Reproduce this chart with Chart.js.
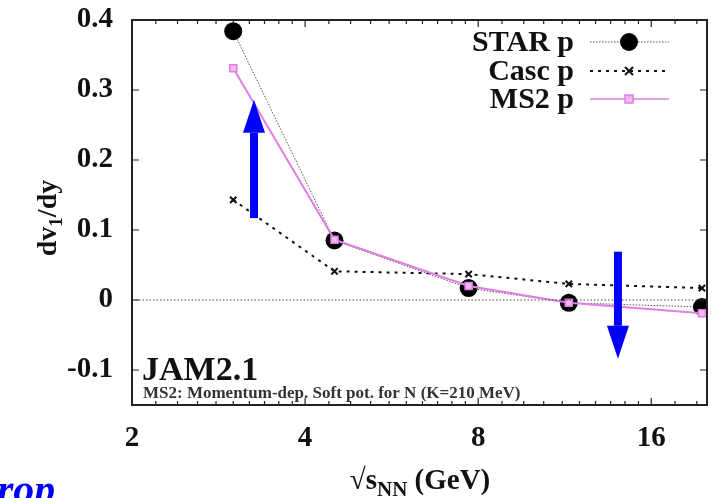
<!DOCTYPE html>
<html>
<head>
<meta charset="utf-8">
<script src="https://cdn.jsdelivr.net/npm/chart.js@4.4.1/dist/chart.umd.min.js"></script>
<style>
  html, body { margin: 0; padding: 0; background: #fff; }
  #wrap { width: 716px; height: 498px; position: relative; }
</style>
</head>
<body>
<div id="wrap"><canvas id="dv1Chart" width="716" height="498"></canvas></div>
<script>
// ======================
// Dados
// ======================
const energias = [3.0, 4.5, 7.7, 11.5, 19.6];     // sqrt(s_NN) em GeV
const starP = [0.384, 0.085, 0.017, -0.004, -0.010];
const cascP = [0.143, 0.041, 0.037, 0.023, 0.017];
const ms2P = [0.331, 0.086, 0.020, -0.004, -0.019];

const xTicks = [2, 4, 8, 16];
const yTicks = [-0.1, 0, 0.1, 0.2, 0.3, 0.4];
const yTickLabels = ["-0.1", "0", "0.1", "0.2", "0.3", "0.4"];

// setas azuis: [x, y inicio, y ponta]
const setaSobe = [3.26, 0.117, 0.286];
const setaDesce = [14.0, 0.069, -0.084];

const serif = "'Liberation Serif', 'DejaVu Serif', serif";
const violeta = "#e07fe4";

function pontos(valores) {
  return energias.map((e, i) => ({ x: e, y: valores[i] }));
}

// minor ticks do eixo log (passo linear entre potencias de 2)
function minorTicks() {
  const out = [];
  for (let base = 2; base < 20; base *= 2) {
    const passo = base / 10;
    for (let v = base + passo; v < base * 2 - 1e-9 && v < 20; v += passo) out.push(v);
  }
  return out;
}

const moldura = {
  id: "moldura",
  afterDatasetsDraw(chart) {
    const { ctx, chartArea: a, scales } = chart;
    const x = scales.x, y = scales.y;
    ctx.save();

    // linha do zero pontilhada
    ctx.strokeStyle = "#444";
    ctx.lineWidth = 1;
    ctx.setLineDash([1.5, 2]);
    ctx.beginPath();
    ctx.moveTo(a.left, y.getPixelForValue(0));
    ctx.lineTo(a.right, y.getPixelForValue(0));
    ctx.stroke();
    ctx.setLineDash([]);

    // ticks para dentro
    ctx.strokeStyle = "#222";
    ctx.lineWidth = 1.2;
    ctx.beginPath();
    yTicks.forEach(v => {
      const py = y.getPixelForValue(v);
      ctx.moveTo(a.left, py); ctx.lineTo(a.left + 7, py);
      ctx.moveTo(a.right, py); ctx.lineTo(a.right - 7, py);
    });
    xTicks.forEach(v => {
      const px = x.getPixelForValue(v);
      ctx.moveTo(px, a.top); ctx.lineTo(px, a.top + 7);
      ctx.moveTo(px, a.bottom); ctx.lineTo(px, a.bottom - 7);
    });
    minorTicks().forEach(v => {
      const px = x.getPixelForValue(v);
      ctx.moveTo(px, a.top); ctx.lineTo(px, a.top + 4);
      ctx.moveTo(px, a.bottom); ctx.lineTo(px, a.bottom - 4);
    });
    ctx.stroke();

    // moldura
    ctx.lineWidth = 2;
    ctx.strokeStyle = "#222";
    ctx.strokeRect(a.left, a.top, a.right - a.left, a.bottom - a.top);

    // setas azuis
    ctx.fillStyle = "#0000ff";
    [setaSobe, setaDesce].forEach(s => {
      const px = x.getPixelForValue(s[0]);
      const y0 = y.getPixelForValue(s[1]);
      const y1 = y.getPixelForValue(s[2]);
      const dir = y1 < y0 ? 1 : -1;
      const base = y1 + dir * 33;
      ctx.fillRect(px - 4, Math.min(y0, base), 8, Math.abs(base - y0));
      ctx.beginPath();
      ctx.moveTo(px - 11, base);
      ctx.lineTo(px + 11, base);
      ctx.lineTo(px, y1);
      ctx.closePath();
      ctx.fill();
    });

    // legenda
    const linhas = [
      { nome: "STAR p", y: 42 },
      { nome: "Casc p", y: 71 },
      { nome: "MS2 p", y: 99 }
    ];
    ctx.font = "bold 30px " + serif;
    ctx.fillStyle = "#111";
    ctx.textAlign = "right";
    ctx.textBaseline = "middle";
    linhas.forEach(l => ctx.fillText(l.nome, 574, l.y + 1));

    const x0 = 590, x1 = 669, xm = 629;
    // STAR
    ctx.strokeStyle = "#555"; ctx.lineWidth = 1; ctx.setLineDash([1.5, 1.5]);
    ctx.beginPath(); ctx.moveTo(x0, 42); ctx.lineTo(x1, 42); ctx.stroke();
    ctx.setLineDash([]);
    ctx.fillStyle = "#000";
    ctx.beginPath(); ctx.arc(xm, 42, 9, 0, Math.PI * 2); ctx.fill();
    // Casc
    ctx.strokeStyle = "#111"; ctx.lineWidth = 2; ctx.setLineDash([3, 5]);
    ctx.beginPath(); ctx.moveTo(x0, 71); ctx.lineTo(x1, 71); ctx.stroke();
    ctx.setLineDash([]);
    ctx.beginPath();
    ctx.moveTo(xm - 4, 67); ctx.lineTo(xm + 4, 75);
    ctx.moveTo(xm + 4, 67); ctx.lineTo(xm - 4, 75);
    ctx.stroke();
    // MS2
    ctx.strokeStyle = violeta; ctx.lineWidth = 1.5;
    ctx.beginPath(); ctx.moveTo(x0, 99); ctx.lineTo(x1, 99); ctx.stroke();
    ctx.fillStyle = "#f0b8f0";
    ctx.fillRect(xm - 4, 95, 8, 8);
    ctx.strokeRect(xm - 4, 95, 8, 8);

    // textos dentro do grafico
    ctx.textAlign = "left";
    ctx.textBaseline = "alphabetic";
    ctx.fillStyle = "#111";
    ctx.font = "bold 34px " + serif;
    ctx.fillText("JAM2.1", 142, 380);
    ctx.font = "bold 17px " + serif;
    ctx.fillStyle = "#333";
    ctx.fillText("MS2: Momentum-dep. Soft pot. for N (K=210 MeV)", 143, 398);

    // titulo eixo x
    ctx.fillStyle = "#111";
    ctx.font = "bold 29px " + serif;
    const partes = ["\u221As", "NN", " (GeV)"];
    const w1 = ctx.measureText(partes[0]).width;
    const w3 = ctx.measureText(partes[2]).width;
    ctx.font = "bold 21px " + serif;
    const w2 = ctx.measureText(partes[1]).width;
    let tx = 420 - (w1 + w2 + w3) / 2;
    ctx.font = "bold 29px " + serif;
    ctx.fillText(partes[0], tx, 489);
    tx += w1;
    ctx.font = "bold 21px " + serif;
    ctx.fillText(partes[1], tx, 496);
    tx += w2;
    ctx.font = "bold 29px " + serif;
    ctx.fillText(partes[2], tx, 489);

    // titulo eixo y
    ctx.save();
    ctx.translate(56, 218);
    ctx.rotate(-Math.PI / 2);
    ctx.font = "bold 28px " + serif;
    const a1 = ctx.measureText("dv").width;
    const a3 = ctx.measureText("/dy").width;
    ctx.font = "bold 19px " + serif;
    const a2 = ctx.measureText("1").width;
    let ty = -(a1 + a2 + a3) / 2;
    ctx.font = "bold 28px " + serif;
    ctx.fillText("dv", ty, 0);
    ty += a1;
    ctx.font = "bold 19px " + serif;
    ctx.fillText("1", ty, 6);
    ty += a2;
    ctx.font = "bold 28px " + serif;
    ctx.fillText("/dy", ty, 0);
    ctx.restore();

    // texto azul cortado
    ctx.fillStyle = "#0000ff";
    ctx.font = "italic bold 42px " + serif;
    ctx.fillText("rop", -3, 503);

    ctx.restore();
  }
};

function desenharGrafico() {
  const ctx = document.getElementById("dv1Chart").getContext("2d");

  new Chart(ctx, {
    type: "scatter",
    data: {
      datasets: [
        {
          label: "STAR p",
          data: pontos(starP),
          showLine: true,
          borderColor: "#555",
          borderWidth: 1,
          borderDash: [1.5, 1.5],
          pointStyle: "circle",
          pointRadius: 9,
          pointBackgroundColor: "#000",
          pointBorderColor: "#000",
          pointBorderWidth: 0,
          order: 3
        },
        {
          label: "Casc p",
          data: pontos(cascP),
          showLine: true,
          borderColor: "#111",
          borderWidth: 2,
          borderDash: [3, 5],
          pointStyle: "crossRot",
          pointRadius: 4.5,
          pointBorderColor: "#111",
          pointBorderWidth: 2,
          order: 2
        },
        {
          label: "MS2 p",
          data: pontos(ms2P),
          showLine: true,
          borderColor: violeta,
          borderWidth: 2,
          pointStyle: "rect",
          pointRadius: 5,
          pointBackgroundColor: "#f0b8f0",
          pointBorderColor: violeta,
          pointBorderWidth: 1.5,
          order: 1
        }
      ]
    },
    options: {
      responsive: false,
      animation: false,
      layout: { padding: { top: 20, right: 9, left: 0, bottom: 0 } },
      plugins: {
        legend: { display: false },
        tooltip: { enabled: false }
      },
      scales: {
        x: {
          type: "logarithmic",
          min: 2,
          max: 20,
          grid: { display: false, drawTicks: false },
          border: { display: false },
          afterBuildTicks: s => { s.ticks = xTicks.map(v => ({ value: v })); },
          afterFit: s => { s.height = 93; s.paddingLeft = 0; s.paddingRight = 0; },
          ticks: {
            padding: 16,
            color: "#111",
            font: { family: serif, size: 29, weight: "bold" },
            callback: v => String(v),
            maxRotation: 0,
            autoSkip: false
          }
        },
        y: {
          type: "linear",
          min: -0.15,
          max: 0.4,
          grid: { display: false, drawTicks: false },
          border: { display: false },
          afterBuildTicks: s => { s.ticks = yTicks.map(v => ({ value: v })); },
          afterFit: s => { s.width = 132; s.paddingTop = 0; s.paddingBottom = 0; },
          ticks: {
            padding: 19,
            color: "#111",
            font: { family: serif, size: 29, weight: "bold" },
            callback: v => yTickLabels[yTicks.findIndex(t => Math.abs(t - v) < 1e-9)]
          }
        }
      }
    },
    plugins: [moldura]
  });
}

document.addEventListener("DOMContentLoaded", desenharGrafico);
</script>
</body>
</html>
